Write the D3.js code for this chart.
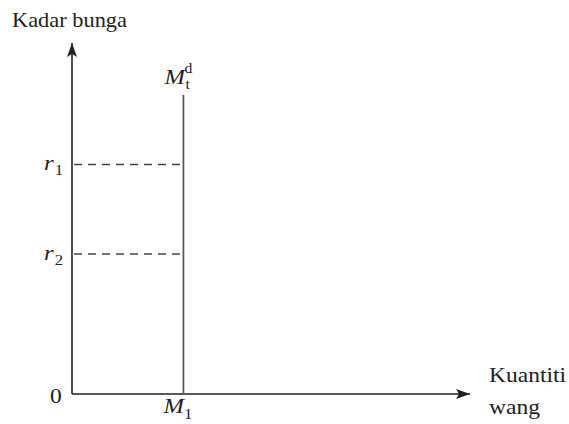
<!DOCTYPE html>
<html lang="ms">
<head>
    <meta charset="UTF-8">
    <title>Kadar bunga dan kuantiti wang</title>
    <style>
        body { margin: 0; background: #fff; }
        text {
            font-family: "Liberation Serif", "Times New Roman", serif;
            fill: #222;
        }
        .axis line { stroke: #222; stroke-width: 1.6px; }
        .supply { stroke: #555; stroke-width: 1.7px; }
        .guide { stroke: #444; stroke-width: 1.5px; stroke-dasharray: 8,6; }
    </style>
    <script src="https://d3js.org/d3.v7.min.js"></script>
</head>
<body>
    <script>
        // money supply quantity and interest rate levels (chart units 0..100)
        const moneyQty = [{ name: "M", sub: "1", value: 28 }];
        const rates = [
            { name: "r", sub: "1", value: 65.4 },
            { name: "r", sub: "2", value: 39.9 }
        ];
        const supplyTop = 85.2;
        const axisLabels = { y: "Kadar bunga", x: ["Kuantiti", "wang"], origin: "0" };

        const width = 569, height = 424;
        const svg = d3.select("body").append("svg")
            .attr("width", width)
            .attr("height", height);

        const x = d3.scaleLinear().domain([0, 100]).range([72, 470]);
        const y = d3.scaleLinear().domain([0, 100]).range([394, 43]);

        const defs = svg.append("defs");
        defs.append("marker")
            .attr("id", "arrow")
            .attr("viewBox", "0 0 14 10")
            .attr("refX", 14).attr("refY", 5)
            .attr("markerWidth", 14).attr("markerHeight", 10)
            .attr("markerUnits", "userSpaceOnUse")
            .attr("orient", "auto")
            .append("path")
            .attr("d", "M0,0 L14,5 L0,10 L3,5 Z")
            .attr("fill", "#222");

        // axes
        const axis = svg.append("g").attr("class", "axis");
        axis.append("line")
            .attr("x1", x(0)).attr("y1", y(0))
            .attr("x2", x(0)).attr("y2", y(100))
            .attr("marker-end", "url(#arrow)");
        axis.append("line")
            .attr("x1", x(0)).attr("y1", y(0))
            .attr("x2", x(100)).attr("y2", y(0))
            .attr("marker-end", "url(#arrow)");

        // dashed guides from the y-axis to the supply line
        svg.selectAll(".guide").data(rates).enter().append("line")
            .attr("class", "guide")
            .attr("x1", x(0) + 2).attr("x2", x(moneyQty[0].value))
            .attr("y1", d => y(d.value)).attr("y2", d => y(d.value));

        // vertical money supply line
        svg.append("line")
            .attr("class", "supply")
            .attr("x1", x(moneyQty[0].value)).attr("x2", x(moneyQty[0].value))
            .attr("y1", y(0)).attr("y2", y(supplyTop));

        // text labels (glyphs are a bit wider in the original)
        function label(px, py, size) {
            return svg.append("text")
                .attr("transform", `translate(${px},${py}) scale(1.12,1)`)
                .attr("font-size", size);
        }

        label(12, 27, 20).text(axisLabels.y);
        label(489, 382, 21).text(axisLabels.x[0]);
        label(489, 414, 21).text(axisLabels.x[1]);
        label(x(0) - 22, 403, 21).text(axisLabels.origin);

        rates.forEach(d => {
            const t = label(x(0) - 28, y(d.value) + 6, 22);
            t.append("tspan").attr("font-style", "italic").text(d.name);
            t.append("tspan").attr("font-size", 15).attr("dx", 1).attr("dy", 5).text(d.sub);
        });

        moneyQty.forEach(d => {
            const t = label(x(d.value) - 20, 413, 22);
            t.append("tspan").attr("font-style", "italic").text(d.name);
            t.append("tspan").attr("font-size", 15).attr("dy", 6).text(d.sub);
        });

        // demand label M^d_t above the supply line
        const md = label(x(moneyQty[0].value) - 19, 84, 22);
        md.append("tspan").attr("font-style", "italic").text("M");
        svg.append("text")
            .attr("transform", `translate(${x(moneyQty[0].value) + 1},73) scale(1.12,1)`)
            .attr("font-size", 14).text("d");
        svg.append("text")
            .attr("transform", `translate(${x(moneyQty[0].value) + 2},89) scale(1.12,1)`)
            .attr("font-size", 14).text("t");
    </script>
</body>
</html>
